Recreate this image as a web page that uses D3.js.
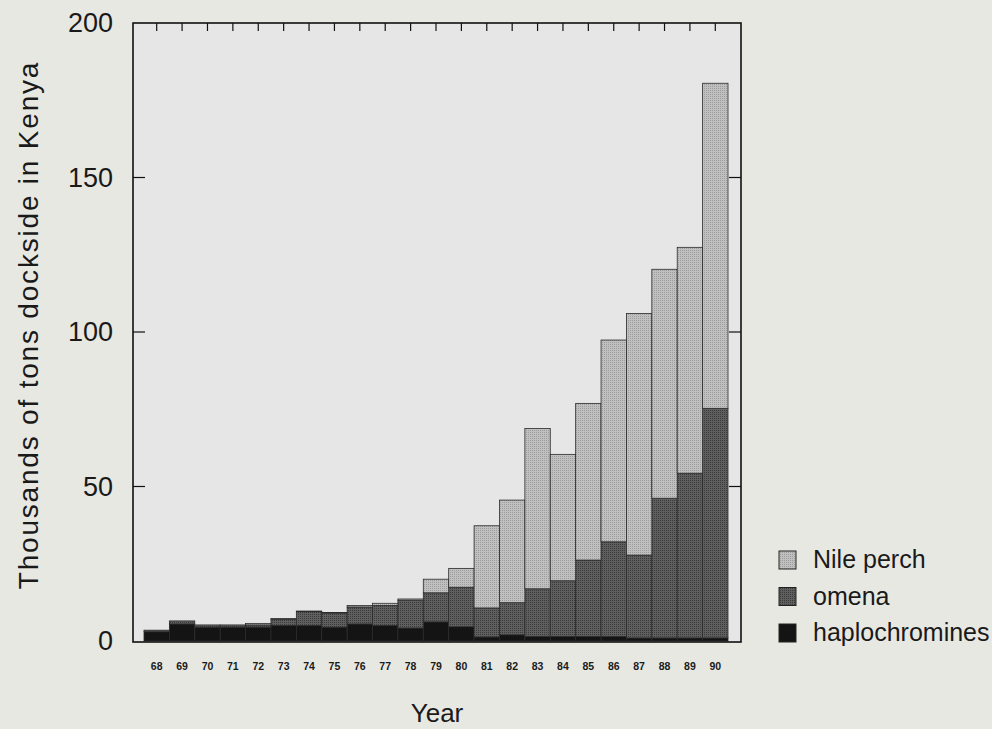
<!DOCTYPE html>
<html>
<head>
<meta charset="utf-8">
<script src="https://cdn.jsdelivr.net/npm/d3@7"></script>
<style>
  html, body { margin: 0; padding: 0; background: #e8e8e3; }
  svg { display: block; }
  text { font-family: "Liberation Sans", Arial, sans-serif; fill: #1a1a1a; }
</style>
</head>
<body>
<svg id="chart" width="992" height="729"></svg>
<script>
const years = ["68","69","70","71","72","73","74","75","76","77","78","79","80","81","82","83","84","85","86","87","88","89","90"];
const haplochromines = [3.0, 5.5, 4.5, 4.5, 4.5, 5.0, 5.0, 4.5, 5.5, 5.0, 4.2, 6.2, 4.6, 1.3, 2.0, 1.5, 1.5, 1.5, 1.5, 1.0, 1.0, 1.0, 1.0];
const omena          = [0.5, 1.0, 0.7, 0.7, 0.7, 2.0, 4.5, 4.5, 5.5, 6.5, 9.0, 9.4, 12.8, 9.4, 10.4, 15.4, 18.0, 24.7, 30.6, 26.8, 45.2, 53.3, 74.3];
const nilePerch      = [0, 0, 0, 0, 0.5, 0.3, 0.2, 0.2, 0.5, 0.7, 0.4, 4.4, 6.1, 26.6, 33.2, 51.9, 40.9, 50.7, 65.3, 78.2, 74.1, 73.1, 105.2];
const seriesNames = ["haplochromines", "omena", "Nile perch"];
const legendOrder = ["Nile perch", "omena", "haplochromines"];
const yTicks = [0, 50, 100, 150, 200];

const svg = d3.select("#chart");
const frame = {left: 133, right: 741, top: 23, bottom: 642};

const x = d3.scaleBand().domain(years).range([144, 728]).padding(0);
const y = d3.scaleLinear().domain([0, 200]).range([641, 23]);

// patterns for texture
const defs = svg.append("defs");
function dotPattern(id, bg, dot, size) {
  const p = defs.append("pattern").attr("id", id).attr("width", size).attr("height", size)
    .attr("patternUnits", "userSpaceOnUse");
  p.append("rect").attr("width", size).attr("height", size).attr("fill", bg);
  p.append("rect").attr("x", 0).attr("y", 0).attr("width", 1).attr("height", 1).attr("fill", dot);
}
dotPattern("pNile", "#c0c0c0", "#9c9c9c", 2);
dotPattern("pOmena", "#5f5f5f", "#3a3a3a", 2);
const fillFor = {"haplochromines": "#141414", "omena": "url(#pOmena)", "Nile perch": "url(#pNile)"};

// plot background
svg.append("rect").attr("x", frame.left).attr("y", frame.top)
  .attr("width", frame.right - frame.left).attr("height", frame.bottom - frame.top)
  .attr("fill", "#e6e6e6");

const table = years.map((yr, i) => ({year: yr, "haplochromines": haplochromines[i], "omena": omena[i], "Nile perch": nilePerch[i]}));
const stack = d3.stack().keys(seriesNames)(table);

svg.append("g").selectAll("g").data(stack).join("g")
  .attr("fill", d => fillFor[d.key])
  .selectAll("rect").data(d => d).join("rect")
  .attr("x", d => x(d.data.year))
  .attr("y", d => y(d[1]))
  .attr("width", x.bandwidth())
  .attr("height", d => Math.max(0, y(d[0]) - y(d[1])))
  .attr("stroke", "#2a2a2a").attr("stroke-width", 0.8);

// frame
svg.append("rect").attr("x", frame.left).attr("y", frame.top)
  .attr("width", frame.right - frame.left).attr("height", frame.bottom - frame.top)
  .attr("fill", "none").attr("stroke", "#111").attr("stroke-width", 1.6);

// left ticks (inward) and labels
const gl = svg.append("g");
gl.selectAll("line").data(yTicks.filter(t => t > 0 && t < 200)).join("line")
  .attr("x1", frame.left).attr("x2", frame.left + 12)
  .attr("y1", d => y(d)).attr("y2", d => y(d))
  .attr("stroke", "#111").attr("stroke-width", 1.2);
gl.selectAll("text").data(yTicks).join("text")
  .attr("x", 113).attr("y", d => y(d) + 9)
  .attr("text-anchor", "end")
  .attr("font-size", 27)
  .attr("fill", "#2a2a2a")
  .text(d => d);

// right ticks inward
svg.append("g").selectAll("line").data(yTicks.filter(t => t > 0 && t < 200)).join("line")
  .attr("x1", frame.right).attr("x2", frame.right - 12)
  .attr("y1", d => y(d)).attr("y2", d => y(d))
  .attr("stroke", "#111").attr("stroke-width", 1.2);

// top ticks at band centres
svg.append("g").selectAll("line").data(years).join("line")
  .attr("x1", d => x(d) + x.bandwidth() / 2).attr("x2", d => x(d) + x.bandwidth() / 2)
  .attr("y1", frame.top).attr("y2", frame.top + 8)
  .attr("stroke", "#111").attr("stroke-width", 1.2);

// bottom labels
svg.append("g").selectAll("text").data(years).join("text")
  .attr("x", d => x(d) + x.bandwidth() / 2)
  .attr("y", 670)
  .attr("text-anchor", "middle")
  .attr("font-size", 10.5).attr("font-weight", "bold")
  .text(d => d);

// axis titles
svg.append("text").attr("x", 437).attr("y", 722).attr("text-anchor", "middle")
  .attr("font-size", 26).attr("fill", "#2a2a2a").text("Year");
svg.append("text").attr("transform", "translate(38,325) rotate(-90)")
  .attr("text-anchor", "middle").attr("font-size", 28).attr("letter-spacing", 1.8)
  .attr("fill", "#2a2a2a")
  .text("Thousands of tons dockside in Kenya");

// legend
const lg = svg.append("g");
legendOrder.forEach((name, i) => {
  const yy = 551 + i * 36.5;
  lg.append("rect").attr("x", 779).attr("y", yy).attr("width", 17).attr("height", 18)
    .attr("fill", fillFor[name]).attr("stroke", "#222").attr("stroke-width", 1);
  lg.append("text").attr("x", 813).attr("y", yy + 17).attr("font-size", 25)
    .attr("fill", "#2a2a2a").text(name);
});
</script>
</body>
</html>
